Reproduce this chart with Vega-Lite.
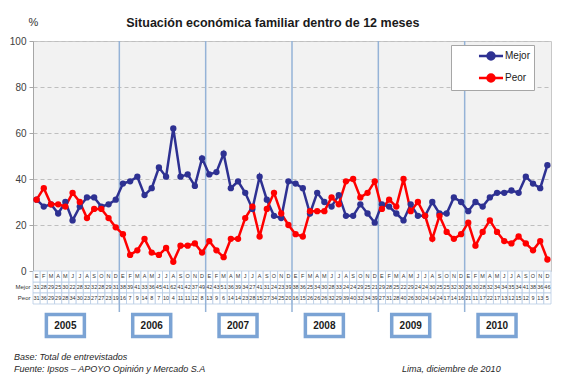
{
  "$schema": "https://vega.github.io/schema/vega-lite/v6.json",
  "padding": {"left": 8, "top": 15, "right": 8, "bottom": 0},
  "background": "white",
  "bounds": "flush",
  "title": {"text": "Situación económica familiar dentro de 12 meses", "fontSize": 12.5, "fontWeight": "bold", "color": "#1a1a1a", "anchor": "middle", "offset": -14, "dx": -8},
  "data": {"values": [
    {"t":"2005-01","Mejor":31,"Peor":31},{"t":"2005-02","Mejor":28,"Peor":36},{"t":"2005-03","Mejor":29,"Peor":29},{"t":"2005-04","Mejor":25,"Peor":29},{"t":"2005-05","Mejor":30,"Peor":28},{"t":"2005-06","Mejor":22,"Peor":34},{"t":"2005-07","Mejor":28,"Peor":30},{"t":"2005-08","Mejor":32,"Peor":23},{"t":"2005-09","Mejor":32,"Peor":27},{"t":"2005-10","Mejor":28,"Peor":27},{"t":"2005-11","Mejor":29,"Peor":23},{"t":"2005-12","Mejor":31,"Peor":19},
    {"t":"2006-01","Mejor":38,"Peor":16},{"t":"2006-02","Mejor":39,"Peor":7},{"t":"2006-03","Mejor":41,"Peor":9},{"t":"2006-04","Mejor":33,"Peor":14},{"t":"2006-05","Mejor":36,"Peor":8},{"t":"2006-06","Mejor":45,"Peor":7},{"t":"2006-07","Mejor":41,"Peor":10},{"t":"2006-08","Mejor":62,"Peor":4},{"t":"2006-09","Mejor":41,"Peor":11},{"t":"2006-10","Mejor":42,"Peor":11},{"t":"2006-11","Mejor":37,"Peor":12},{"t":"2006-12","Mejor":49,"Peor":8},
    {"t":"2007-01","Mejor":42,"Peor":13},{"t":"2007-02","Mejor":43,"Peor":9},{"t":"2007-03","Mejor":51,"Peor":6},{"t":"2007-04","Mejor":36,"Peor":14},{"t":"2007-05","Mejor":39,"Peor":14},{"t":"2007-06","Mejor":34,"Peor":23},{"t":"2007-07","Mejor":27,"Peor":28},{"t":"2007-08","Mejor":41,"Peor":15},{"t":"2007-09","Mejor":31,"Peor":27},{"t":"2007-10","Mejor":24,"Peor":34},{"t":"2007-11","Mejor":23,"Peor":25},{"t":"2007-12","Mejor":39,"Peor":20},
    {"t":"2008-01","Mejor":38,"Peor":16},{"t":"2008-02","Mejor":36,"Peor":15},{"t":"2008-03","Mejor":25,"Peor":26},{"t":"2008-04","Mejor":34,"Peor":26},{"t":"2008-05","Mejor":30,"Peor":26},{"t":"2008-06","Mejor":28,"Peor":32},{"t":"2008-07","Mejor":33,"Peor":29},{"t":"2008-08","Mejor":24,"Peor":39},{"t":"2008-09","Mejor":24,"Peor":40},{"t":"2008-10","Mejor":29,"Peor":32},{"t":"2008-11","Mejor":25,"Peor":34},{"t":"2008-12","Mejor":21,"Peor":39},
    {"t":"2009-01","Mejor":29,"Peor":27},{"t":"2009-02","Mejor":28,"Peor":31},{"t":"2009-03","Mejor":25,"Peor":28},{"t":"2009-04","Mejor":22,"Peor":40},{"t":"2009-05","Mejor":29,"Peor":26},{"t":"2009-06","Mejor":24,"Peor":30},{"t":"2009-07","Mejor":24,"Peor":24},{"t":"2009-08","Mejor":30,"Peor":14},{"t":"2009-09","Mejor":25,"Peor":24},{"t":"2009-10","Mejor":25,"Peor":17},{"t":"2009-11","Mejor":32,"Peor":14},{"t":"2009-12","Mejor":30,"Peor":16},
    {"t":"2010-01","Mejor":26,"Peor":21},{"t":"2010-02","Mejor":30,"Peor":11},{"t":"2010-03","Mejor":28,"Peor":17},{"t":"2010-04","Mejor":32,"Peor":22},{"t":"2010-05","Mejor":34,"Peor":17},{"t":"2010-06","Mejor":34,"Peor":13},{"t":"2010-07","Mejor":35,"Peor":12},{"t":"2010-08","Mejor":34,"Peor":15},{"t":"2010-09","Mejor":41,"Peor":12},{"t":"2010-10","Mejor":38,"Peor":9},{"t":"2010-11","Mejor":36,"Peor":13},{"t":"2010-12","Mejor":46,"Peor":5}
  ]},
  "spacing": 0,
  "resolve": {"scale": {"x": "shared", "y": "independent"}},
  "vconcat": [
    {
      "width": 518, "height": 230,
      "view": {"fill": "#f2f2f2", "stroke": "#c8c8c8"},
      "layer": [
        {
          "transform": [{"filter": "substring(datum.t,5,7)=='01' && datum.t > '2006'"}],
          "mark": {"type": "rule", "color": "#95b3d7", "strokeWidth": 1.5},
          "encoding": {"x": {"field": "t", "type": "ordinal", "bandPosition": 0, "scale": {"type": "band", "paddingInner": 0, "paddingOuter": 0}, "axis": null}}
        },
        {
          "transform": [{"fold": ["Mejor", "Peor"], "as": ["serie", "valor"]}],
          "mark": {"type": "line", "strokeWidth": 2.5},
          "encoding": {
            "x": {"field": "t", "type": "ordinal", "bandPosition": 0.5, "axis": null},
            "y": {"field": "valor", "type": "quantitative", "scale": {"domain": [0, 100]},
              "axis": {"values": [0, 20, 40, 60, 80, 100], "title": "%", "titleAngle": 0, "titleX": 0, "titleY": -19, "titleAlign": "center", "titleBaseline": "middle", "titleFontWeight": "normal", "titleFontSize": 11, "titleColor": "#333333", "grid": true, "gridDash": [4, 3], "gridColor": "#bfbfbf", "domainColor": "#a6a6a6", "tickColor": "#a6a6a6", "tickSize": 4, "labelFontSize": 10, "labelColor": "#404040", "labelPadding": 3}},
            "color": {"field": "serie", "type": "nominal", "scale": {"domain": ["Mejor", "Peor"], "range": ["#2e3192", "#ff0000"]},
              "legend": {"title": null, "orient": "none", "legendX": 418, "legendY": 4, "fillColor": "white", "strokeColor": "#a6a6a6", "padding": 3, "symbolType": "M-1.85,0L1.85,0M0.54,0A0.54,0.54,0,1,1,-0.54,0A0.54,0.54,0,1,1,0.54,0", "symbolSize": 169, "symbolStrokeWidth": 2.5, "symbolOffset": 29, "labelFontSize": 10, "labelColor": "#1a1a1a", "rowPadding": 4, "labelOffset": 6}}
          }
        },
        {
          "transform": [{"fold": ["Mejor", "Peor"], "as": ["serie", "valor"]}],
          "mark": {"type": "point", "filled": true, "size": 40, "opacity": 1},
          "encoding": {
            "x": {"field": "t", "type": "ordinal", "bandPosition": 0.5, "axis": null},
            "y": {"field": "valor", "type": "quantitative"},
            "color": {"field": "serie", "type": "nominal"}
          }
        }
      ]
    },
    {
      "width": 518, "height": 41,
      "layer": [
        {
          "transform": [{"fold": ["Mejor", "Peor"], "as": ["serie", "valor"]}],
          "mark": {"type": "rect", "fill": "white", "stroke": "#b8cce4", "strokeWidth": 0.8},
          "encoding": {
            "x": {"field": "t", "type": "ordinal", "axis": null},
            "y": {"field": "serie", "type": "nominal", "scale": {"domain": ["m", "Mejor", "Peor"], "paddingInner": 0, "paddingOuter": 0.364, "align": 0},
              "axis": {"title": null, "domain": false, "ticks": false, "labelFontSize": 6, "labelColor": "#333333", "labelPadding": 3, "labelExpr": "datum.value == 'm' ? '' : datum.value"}}
          }
        },
        {
          "mark": {"type": "rect", "fill": "white", "stroke": "#b8cce4", "strokeWidth": 0.8},
          "encoding": {
            "x": {"field": "t", "type": "ordinal"},
            "y": {"datum": "m", "type": "nominal"}
          }
        },
        {
          "transform": [{"fold": ["Mejor", "Peor"], "as": ["serie", "valor"]}],
          "mark": {"type": "text", "fontSize": 5.5, "color": "#333333"},
          "encoding": {
            "x": {"field": "t", "type": "ordinal", "bandPosition": 0.5},
            "y": {"field": "serie", "type": "nominal", "bandPosition": 0.5},
            "text": {"field": "valor"}
          }
        },
        {
          "transform": [{"calculate": "['E','F','M','A','M','J','J','A','S','O','N','D'][toNumber(substring(datum.t,5,7))-1]", "as": "letra"}],
          "mark": {"type": "text", "fontSize": 5.5, "color": "#333333"},
          "encoding": {
            "x": {"field": "t", "type": "ordinal", "bandPosition": 0.5},
            "y": {"datum": "m", "type": "nominal", "bandPosition": 0.5},
            "text": {"field": "letra"}
          }
        },
        {
          "transform": [{"filter": "substring(datum.t,5,7)=='01' && datum.t > '2006'"}],
          "mark": {"type": "rule", "color": "#95b3d7", "strokeWidth": 1.5},
          "encoding": {"x": {"field": "t", "type": "ordinal", "bandPosition": 0}}
        }
      ]
    },
    {
      "width": 518, "height": 27,
      "transform": [{"filter": "substring(datum.t,5,7)=='05'"}, {"calculate": "substring(datum.t,0,4)", "as": "anio"}],
      "layer": [
        {
          "mark": {"type": "point", "shape": "M-1,-0.58L1,-0.58L1,0.58L-1,0.58Z", "size": 1444, "filled": true, "fill": "white", "stroke": "#7ba3d4", "strokeWidth": 3.5, "opacity": 1},
          "encoding": {"x": {"field": "t", "type": "ordinal", "bandPosition": 0.5, "axis": null}}
        },
        {
          "mark": {"type": "text", "fontSize": 10, "fontWeight": "bold", "color": "#1a1a1a"},
          "encoding": {"x": {"field": "t", "type": "ordinal", "bandPosition": 0.5}, "text": {"field": "anio"}}
        }
      ]
    },
    {
      "width": 518, "height": 41,
      "layer": [
        {
          "data": {"values": [{"s": "Base: Total de entrevistados\nFuente: Ipsos – APOYO Opinión y Mercado S.A"}]},
          "mark": {"type": "text", "align": "left", "baseline": "middle", "lineBreak": "\n", "lineHeight": 12, "fontSize": 9, "fontStyle": "italic", "color": "#262626", "dx": -19, "dy": -3},
          "encoding": {"x": {"datum": "2005-01", "type": "ordinal", "bandPosition": 0, "axis": null}, "text": {"field": "s"}}
        },
        {
          "data": {"values": [{"s": "Lima, diciembre de 2010"}]},
          "mark": {"type": "text", "align": "right", "baseline": "middle", "fontSize": 9, "fontStyle": "italic", "color": "#262626", "dy": 9},
          "encoding": {"x": {"datum": "2010-06", "type": "ordinal", "bandPosition": 0}, "text": {"field": "s"}}
        }
      ]
    }
  ],
  "config": {"font": "Liberation Sans", "view": {"stroke": null}}
}
